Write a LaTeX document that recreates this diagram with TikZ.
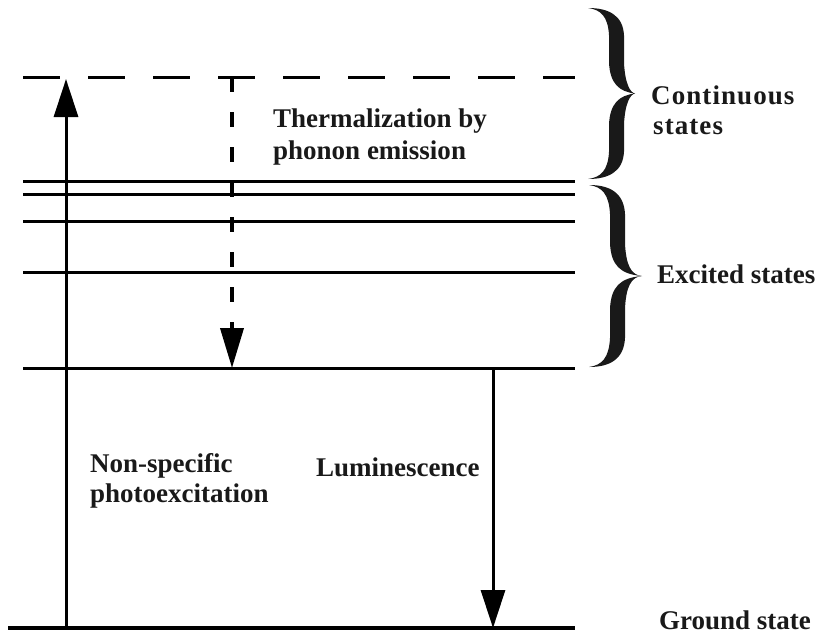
\documentclass[tikz,border=0pt]{standalone}
\usepackage{fontspec}
\setmainfont{Liberation Serif}
\usetikzlibrary{arrows.meta}
\newcommand\calbrace[4]{%
  \begin{scope}[shift={(#1,#2)},yscale=#3]
    \fill[bracecol] (0,0) .. controls (20,0) and (35,0.04) .. (36,0.16) -- (36,0.32)
      .. controls (37,0.44) and (42,0.495) .. (#4,0.5)
      .. controls (42,0.505) and (37,0.56) .. (36,0.68) -- (36,0.84)
      .. controls (35,0.96) and (20,1) .. (0,1)
      .. controls (13,0.99) and (20,0.95) .. (21,0.84) -- (21,0.68)
      .. controls (22,0.56) and (31,0.51) .. (#4,0.5)
      .. controls (31,0.49) and (22,0.44) .. (21,0.32) -- (21,0.16)
      .. controls (20,0.05) and (13,0.01) .. (0,0) -- cycle;
  \end{scope}}
\begin{document}
\begin{tikzpicture}[x=1pt,y=-1pt,
  level/.style={line width=3pt,draw=black},
  groundlvl/.style={line width=4pt,draw=black},
  arr/.style={line width=3pt,draw=black,-{Triangle[length=38pt,width=24pt,fill=black]}},
  darr/.style={line width=3.8pt,draw=black,dash pattern=on 15pt off 20pt,-{Triangle[length=40pt,width=23pt,fill=black]}},
  lbl/.style={anchor=base west,inner sep=0pt,font=\fontsize{27}{31}\selectfont\bfseries,text=black!90},
  lblsp/.style={lbl,font=\fontsize{27}{31}\selectfont\bfseries\addfontfeatures{LetterSpace=4}},
  bracecol/.style={black!90}]
\useasboundingbox (0,0) rectangle (821,637);
% level end points
\coordinate (c0L) at (23,77);  \coordinate (c0R) at (575,77);
\coordinate (e1L) at (23,181); \coordinate (e1R) at (575,181);
\coordinate (e2L) at (23,194); \coordinate (e2R) at (575,194);
\coordinate (e3L) at (23,221); \coordinate (e3R) at (575,221);
\coordinate (e4L) at (23,272); \coordinate (e4R) at (575,272);
\coordinate (e5L) at (23,368); \coordinate (e5R) at (575,368);
\coordinate (gL) at (8,628);   \coordinate (gR) at (575,628);
% arrow end points
\coordinate (upS) at (66,628); \coordinate (upE) at (66,79);
\coordinate (thS) at (232,77); \coordinate (thE) at (232,368);
\coordinate (luS) at (493,368); \coordinate (luE) at (493,628);
% levels
\draw[level,dash pattern=on 37pt off 28pt] (c0L) -- (c0R);
\foreach \i in {1,...,5} \draw[level] (e\i L) -- (e\i R);
\draw[groundlvl] (gL) -- (gR);
% arrows
\draw[arr] (upS) -- (upE);
\draw[darr] (thS) -- (thE);
\draw[arr] (luS) -- (luE);
% braces
\calbrace{588}{8}{171}{47}
\calbrace{589}{185}{182}{53}
% labels
\node[lbl] (therm1) at (273,127) {Thermalization by};
\node[lbl] (therm2) at (273,159) {phonon emission};
\node[lbl] (nons1) at (90,472) {Non-specific};
\node[lbl] (nons2) at (90,502) {photoexcitation};
\node[lbl] (lum) at (316,476) {Luminescence};
\node[lblsp] (cont1) at (651,104) {Continuous};
\node[lblsp] (cont2) at (653,134) {states};
\node[lbl] (exc) at (657,283) {Excited states};
\node[lbl] (gnd) at (659,629) {Ground state};
\end{tikzpicture}
\end{document}
